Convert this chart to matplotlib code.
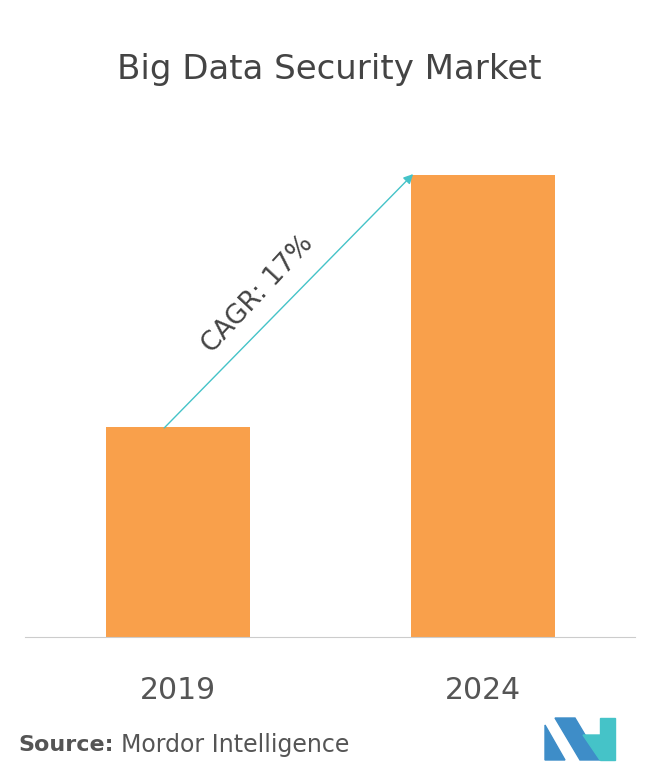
import matplotlib
matplotlib.use("Agg")
import matplotlib.pyplot as plt
from matplotlib.patches import Polygon

years = ["2019", "2024"]
values = [1.0, 2.2]

W, H = 658, 780
fig = plt.figure(figsize=(W/100, H/100), dpi=100)
ax = fig.add_axes([25/W, 1-637/H, 610/W, 517/H])
x = list(range(len(years)))
ax.bar(x, values, width=0.472, color="#F9A04B")
ax.set_xlim(-0.502, 1.498)
ax.set_ylim(0, 2.462)
ax.set_xticks(x)
ax.set_xticklabels(years, fontsize=21.5, color="#555555")
ax.tick_params(axis="x", length=0, pad=28)
ax.set_yticks([])
for s in ["top", "left", "right"]:
    ax.spines[s].set_visible(False)
ax.spines["bottom"].set_color("#cccccc")

ax.annotate("", xy=(0.777, 2.214), xytext=(-0.052, 0.986),
            arrowprops=dict(arrowstyle="-|>", color="#45C3C8", lw=1, mutation_scale=14))
ax.text(0.262, 1.63, "CAGR: 17%", rotation=47, fontsize=19, color="#444444",
        ha="center", va="center", rotation_mode="anchor")

fig.text(0.5, 1-70/H, "Big Data Security Market", ha="center", va="center",
         fontsize=24.5, color="#444444")
fig.text(18/W, 1-745/H, "Source:", fontsize=16, fontweight="bold", color="#555555", va="center")
fig.text(121/W, 1-745/H, "Mordor Intelligence", fontsize=17, color="#555555", va="center")

def poly(pts, c):
    fig.patches.append(Polygon([(px/W, 1-py/H) for px, py in pts], closed=True,
                               transform=fig.transFigure, color=c))
poly([(545, 760), (545, 725), (565, 760)], "#3E8DC8")
poly([(555, 718), (575, 718), (600, 760), (580, 760)], "#3E8DC8")
poly([(583, 735), (600, 760), (600, 735)], "#45C3C8")
poly([(600, 718), (615, 718), (615, 760), (600, 760)], "#45C3C8")

fig.savefig("out.png", dpi=100, facecolor="white")
